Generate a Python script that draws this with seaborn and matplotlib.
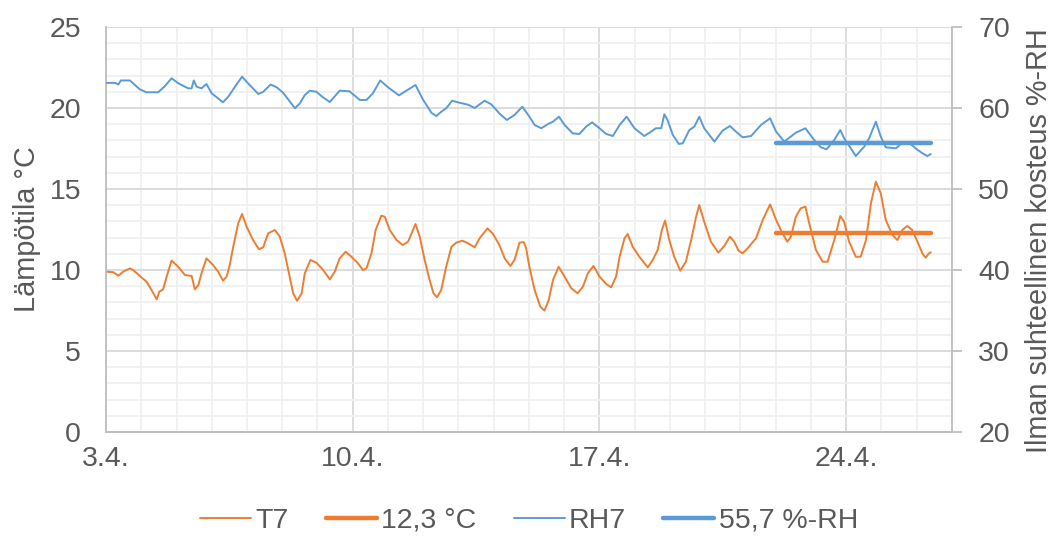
import matplotlib
matplotlib.use("Agg")
import matplotlib.pyplot as plt
from matplotlib.ticker import MultipleLocator
import numpy as np
import pandas as pd
import seaborn as sns

# Measurement period: time in days from 3.4. 00:00
t7_days = [0.00, 0.21, 0.35, 0.49, 0.68, 0.77, 0.96, 1.15, 1.29, 1.44, 1.51, 1.62, 1.72, 1.86,
           2.05, 2.24, 2.43, 2.52, 2.62, 2.71, 2.85, 3.04, 3.18, 3.32, 3.42, 3.51, 3.61, 3.75,
           3.86, 3.99, 4.17, 4.34, 4.46, 4.60, 4.79, 4.93, 5.07, 5.19, 5.31, 5.42, 5.55, 5.64,
           5.80, 5.97, 6.16, 6.35, 6.49, 6.63, 6.80, 6.96, 7.15, 7.29, 7.39, 7.53, 7.65, 7.81,
           7.91, 8.05, 8.24, 8.42, 8.57, 8.78, 8.90, 9.04, 9.18, 9.29, 9.39, 9.51, 9.65, 9.80,
           9.94, 10.11, 10.27, 10.46, 10.60, 10.82, 10.97, 11.16, 11.31, 11.47, 11.59, 11.73,
           11.85, 11.92, 12.01, 12.16, 12.32, 12.44, 12.56, 12.68, 12.84, 13.01, 13.20, 13.38,
           13.53, 13.67, 13.83, 14.00, 14.19, 14.33, 14.47, 14.57, 14.71, 14.80, 14.94, 15.13,
           15.37, 15.51, 15.65, 15.77, 15.86, 15.98, 16.12, 16.29, 16.45, 16.60, 16.74, 16.83,
           16.97, 17.16, 17.37, 17.54, 17.70, 17.82, 17.95, 18.06, 18.20, 18.44, 18.63, 18.84,
           19.01, 19.19, 19.33, 19.43, 19.57, 19.71, 19.84, 19.95, 20.14, 20.33, 20.47, 20.66,
           20.83, 20.94, 21.08, 21.27, 21.41, 21.56, 21.70, 21.84, 21.98, 22.12, 22.31, 22.45,
           22.59, 22.73, 22.87, 23.02, 23.16, 23.25, 23.35, 23.40]
t7_values = [9.9, 9.86, 9.65, 9.9, 10.1, 10.0, 9.63, 9.28, 8.77, 8.19, 8.66, 8.8, 9.59, 10.58,
             10.2, 9.69, 9.63, 8.8, 9.07, 9.8, 10.72, 10.3, 9.9, 9.34, 9.59, 10.3, 11.44, 12.88,
             13.46, 12.67, 11.85, 11.28, 11.4, 12.26, 12.47, 12.06, 11.03, 9.8, 8.56, 8.1, 8.56, 9.8,
             10.62, 10.45, 10.0, 9.42, 9.9, 10.72, 11.13, 10.82, 10.41, 10.0, 10.1, 11.03, 12.47, 13.35,
             13.29, 12.47, 11.85, 11.54, 11.75, 12.84, 12.06, 10.62, 9.38, 8.56, 8.31, 8.77, 10.2, 11.44,
             11.69, 11.81, 11.65, 11.4, 11.96, 12.57, 12.26, 11.54, 10.72, 10.25, 10.62, 11.69,
             11.72, 11.34, 10.2, 8.77, 7.74, 7.49, 8.15, 9.38, 10.2, 9.59, 8.87, 8.56,
             8.97, 9.8, 10.25, 9.59, 9.14, 8.93, 9.59, 10.82, 11.96, 12.22, 11.44, 10.82,
             10.16, 10.62, 11.23, 12.47, 13.05, 11.85, 10.82, 9.96, 10.51, 11.85, 13.29, 14.01,
             12.98, 11.75, 11.07, 11.48, 12.06, 11.75, 11.18, 11.03, 11.34, 11.96, 13.09, 14.05,
             13.09, 12.26, 11.75, 12.06, 13.29, 13.81, 13.91, 12.88, 11.23, 10.51, 10.51, 11.85,
             13.33, 12.98, 11.75, 10.82, 10.82, 11.85, 14.12, 15.45, 14.73, 13.09, 12.16, 11.85,
             12.47, 12.72, 12.47, 11.75, 11.03, 10.76, 11.03, 11.09]

rh7_days = [0.00, 0.26, 0.35, 0.42, 0.68, 0.82, 0.96, 1.15, 1.48, 1.67, 1.86, 2.05, 2.33, 2.43,
            2.49, 2.57, 2.71, 2.85, 3.00, 3.18, 3.32, 3.47, 3.66, 3.86, 4.03, 4.32, 4.46, 4.67,
            4.84, 5.02, 5.17, 5.36, 5.50, 5.64, 5.78, 5.97, 6.16, 6.35, 6.63, 6.91, 7.20, 7.39,
            7.57, 7.78, 8.00, 8.31, 8.52, 8.78, 8.99, 9.23, 9.37, 9.51, 9.65, 9.82, 10.03, 10.27,
            10.46, 10.74, 10.93, 11.16, 11.37, 11.59, 11.81, 12.00, 12.16, 12.35, 12.54, 12.68,
            12.85, 13.01, 13.24, 13.43, 13.62, 13.79, 14.00, 14.19, 14.38, 14.57, 14.77, 14.99,
            15.27, 15.42, 15.60, 15.75, 15.84, 15.93, 16.08, 16.25, 16.36, 16.55, 16.69, 16.83,
            16.97, 17.26, 17.49, 17.70, 17.82, 18.06, 18.30, 18.58, 18.84, 19.01, 19.24, 19.57,
            19.84, 20.09, 20.28, 20.44, 20.66, 20.83, 20.94, 21.13, 21.27, 21.51, 21.65, 21.84,
            21.98, 22.12, 22.41, 22.59, 22.78, 22.97, 23.16, 23.30, 23.40]
rh7_values = [63.1, 63.1, 62.9, 63.4, 63.4, 62.84, 62.3, 61.94, 61.94, 62.7, 63.67, 63.05, 62.43, 62.43,
              63.4, 62.63, 62.43, 62.96, 61.8, 61.19, 60.7, 61.4, 62.63, 63.87, 63.05, 61.73, 62.0, 62.9,
              62.56, 61.9, 61.06, 59.96, 60.57, 61.6, 62.14, 62.0, 61.3, 60.74, 62.14, 62.06, 60.99, 60.99,
              61.8, 63.4, 62.56, 61.56, 62.14, 62.84, 61.06, 59.42, 59.0, 59.54, 59.96, 60.9, 60.65, 60.41,
              60.0, 60.9, 60.45, 59.33, 58.52, 59.14, 60.16, 59.0, 57.9, 57.5, 58.02, 58.31,
              58.93, 57.9, 56.87, 56.79, 57.7, 58.23, 57.5, 56.79, 56.54, 57.9, 58.93, 57.5,
              56.54, 56.95, 57.5, 57.5, 59.22, 58.52, 56.67, 55.56, 55.64, 57.28, 57.7, 58.93,
              57.5, 55.85, 57.2, 57.78, 57.28, 56.38, 56.54, 57.9, 58.73, 57.08, 55.85, 56.95,
              57.5, 56.05, 55.15, 54.9, 56.05, 57.28, 56.26, 55.02, 54.07, 55.23, 56.26, 58.31,
              56.46, 55.15, 55.02, 55.72, 55.72, 55.02, 54.41, 54.07, 54.32]

# Period averages (22.4. onwards)
mean_days = [19.0, 23.4]
t7_mean = 12.3
rh7_mean = 55.7

x_tick_pos = [0, 7, 14, 21]
x_tick_labels = ["3.4.", "10.4.", "17.4.", "24.4."]

ORANGE = "#ED7D31"
BLUE = "#5B9BD5"
TEXT = "#595959"
GRID_MAJOR = "#d9d9d9"
GRID_MINOR = "#f0f0f0"

sns.set_theme(style="white")
plt.rcParams["font.family"] = ["Liberation Sans", "DejaVu Sans"]
plt.rcParams["text.color"] = TEXT
plt.rcParams["axes.labelcolor"] = TEXT
plt.rcParams["xtick.color"] = TEXT
plt.rcParams["ytick.color"] = TEXT

def fi(v):
    return f"{v:.1f}".replace(".", ",")

t7_df = pd.DataFrame({"day": t7_days, "value": t7_values})
rh7_df = pd.DataFrame({"day": rh7_days, "value": rh7_values})
t_mean_df = pd.DataFrame({"day": mean_days, "value": [t7_mean] * len(mean_days)})
rh_mean_df = pd.DataFrame({"day": mean_days, "value": [rh7_mean] * len(mean_days)})

fig = plt.figure(figsize=(10.58, 5.37), dpi=100)
ax = fig.add_axes([106 / 1058, 1 - 432 / 537, 846 / 1058, 405 / 537])
ax2 = ax.twinx()

sns.lineplot(data=t7_df, x="day", y="value", ax=ax, color=ORANGE, lw=1.4,
             estimator=None, label="T7", legend=False)
sns.lineplot(data=t_mean_df, x="day", y="value", ax=ax, color=ORANGE, lw=3.2,
             estimator=None, label=f"{fi(t7_mean)} °C", legend=False)
sns.lineplot(data=rh7_df, x="day", y="value", ax=ax2, color=BLUE, lw=1.4,
             estimator=None, label="RH7", legend=False)
sns.lineplot(data=rh_mean_df, x="day", y="value", ax=ax2, color=BLUE, lw=3.2,
             estimator=None, label=f"{fi(rh7_mean)} %-RH", legend=False)

ax.set_xlim(0, 24)
ax.set_ylim(0, 25)
ax2.set_ylim(20, 70)

ax.set_xticks(x_tick_pos)
ax.set_xticklabels(x_tick_labels)
ax.xaxis.set_minor_locator(MultipleLocator(1))
ax.yaxis.set_major_locator(MultipleLocator(5))
ax.yaxis.set_minor_locator(MultipleLocator(1))
ax2.yaxis.set_major_locator(MultipleLocator(10))

ax.set_axisbelow(True)
ax.grid(which="minor", color=GRID_MINOR, lw=1.3)
ax.grid(which="major", color=GRID_MAJOR, lw=1.3)
ax2.grid(False)

ax.tick_params(axis="both", which="both", length=0, labelsize=20.5)
ax.tick_params(axis="y", pad=18)
ax.tick_params(axis="x", pad=10)
ax2.tick_params(axis="y", which="major", length=7, width=1.3, color="#bfbfbf",
                direction="out", labelsize=20.5, pad=12)
ax2.tick_params(axis="y", which="minor", length=0)

for a in (ax, ax2):
    a.spines["top"].set_visible(False)
    for side in ("left", "bottom", "right"):
        a.spines[side].set_color("#bfbfbf")
        a.spines[side].set_linewidth(1.3)
ax.spines["right"].set_visible(False)
ax2.spines["left"].set_visible(False)

ax.set_xlabel("")
ax.set_ylabel("Lämpötila °C", fontsize=20.8)
ax.yaxis.set_label_coords(-0.077, 0.5)
ax2.set_ylabel("Ilman suhteellinen kosteus %-RH", fontsize=20.8)
ax2.yaxis.set_label_coords(1.086, 0.472)

h1, l1 = ax.get_legend_handles_labels()
h2, l2 = ax2.get_legend_handles_labels()
fig.legend(h1 + h2, l1 + l2, loc="center", bbox_to_anchor=(0.5, 0.03), ncol=4,
           frameon=False, fontsize=20.5, handlelength=1.8, handletextpad=0.15,
           columnspacing=1.3)

fig.savefig("out.png", dpi=100)
